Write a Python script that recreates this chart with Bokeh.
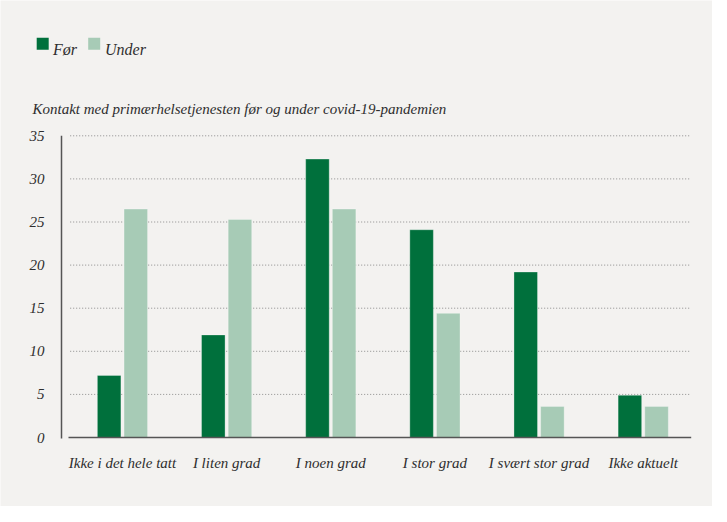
from bokeh.plotting import figure
from bokeh.models import Range1d, ColumnDataSource
from bokeh.core.properties import value
from bokeh.embed import file_html
from bokeh.resources import INLINE

# ---------------- data ----------------
categories = ["Ikke i det hele tatt", "I liten grad", "I noen grad", "I stor grad",
              "I svært stor grad", "Ikke aktuelt"]
for_values = [7.2, 11.9, 32.3, 24.1, 19.2, 4.9]
under_values = [26.5, 25.3, 26.5, 14.4, 3.6, 3.6]
series_names = ["Før", "Under"]
y_ticks = [0, 5, 10, 15, 20, 25, 30, 35]
y_tick_labels = ["0", "5", "10", "15", "20", "25", "30", "35"]
title_text = "Kontakt med primærhelsetjenesten før og under covid-19-pandemien"

# ---------------- style ----------------
DARK = "#00703c"
LIGHT = "#a7cbb6"
BG = "#f3f2f0"
FONT = "Liberation Serif"
TXT = "#2e2e2e"
AXIS = "#555555"
W, H = 712, 506

# geometry (page pixels); the figure sits at page (8, 8)
OFF = 8
PX0, UX = 77.9, 104.15     # page x of category-axis origin, px per category
PY0, UY = 445.0, 8.62      # page y of value 0, px per unit


def dx(page_x):
    return (page_x - PX0) / UX


def dy(page_y):
    return (PY0 - page_y) / UY


p = figure(width=W, height=H, output_backend="svg", toolbar_location=None,
           x_range=Range1d(dx(OFF), dx(OFF + W)), y_range=Range1d(dy(OFF + H), dy(OFF)),
           x_axis_type=None, y_axis_type=None, min_border=0)
p.background_fill_color = BG
p.border_fill_color = BG
p.outline_line_color = None
p.grid.visible = False

n = len(categories)
centers = [i + 0.5 for i in range(n)]
src = ColumnDataSource(dict(x=centers, cat=categories, f=for_values, u=under_values))

# dotted gridlines
p.segment(x0=dx(77.7), x1=dx(698.5), y0=y_ticks[1:], y1=y_ticks[1:],
          line_color="#8c8c8c", line_width=1, line_dash="1 2")

# bars
bar_w = 0.226
off = 0.128
from bokeh.transform import dodge
p.vbar(x=dodge("x", -off), top="f", width=bar_w, source=src,
       fill_color=DARK, line_color="#ffffff", line_alpha=0.3, line_width=1)
p.vbar(x=dodge("x", off), top="u", width=bar_w, source=src,
       fill_color=LIGHT, line_color="#ffffff", line_alpha=0.3, line_width=1)

# axis lines
p.segment(x0=[dx(76)], x1=[dx(698.7)], y0=[0], y1=[0], line_color=AXIS, line_width=1.5)
p.segment(x0=[dx(69)], x1=[dx(69)], y0=[dy(446)], y1=[y_ticks[-1]],
          line_color=AXIS, line_width=1.5)

# y tick labels
p.text(x=[dx(52)] * len(y_ticks), y=y_ticks, text=y_tick_labels,
       text_align="right", text_baseline="middle",
       text_font=value(FONT), text_font_style="italic", text_font_size="15px",
       text_color=TXT)

# x tick labels
p.text(x="x", y=dy(470), text="cat", source=src,
       text_align="center", text_baseline="middle",
       text_font=value(FONT), text_font_style="italic", text_font_size="15px",
       text_color=TXT)

# legend
leg = ColumnDataSource(dict(sx=[dx(50.2), dx(101.7)], tx=[dx(60.5), dx(112.5)],
                            sy=[dy(51.2), dy(51.2)], ty=[dy(56.8), dy(56.8)],
                            color=[DARK, LIGHT], name=series_names))
p.rect(x="sx", y="sy", width=12, height=12, width_units="screen", height_units="screen",
       fill_color="color", line_color=None, source=leg)
p.text(x="tx", y="ty", text="name", source=leg, text_baseline="alphabetic",
       text_font=value(FONT), text_font_style="italic", text_font_size="16px",
       text_color=TXT)

# caption
p.text(x=[dx(40)], y=[dy(116)], text=[title_text], text_baseline="alphabetic",
       text_font=value(FONT), text_font_style="italic", text_font_size="15px",
       text_color=TXT)

open("out.html", "w").write(file_html(p, INLINE))
